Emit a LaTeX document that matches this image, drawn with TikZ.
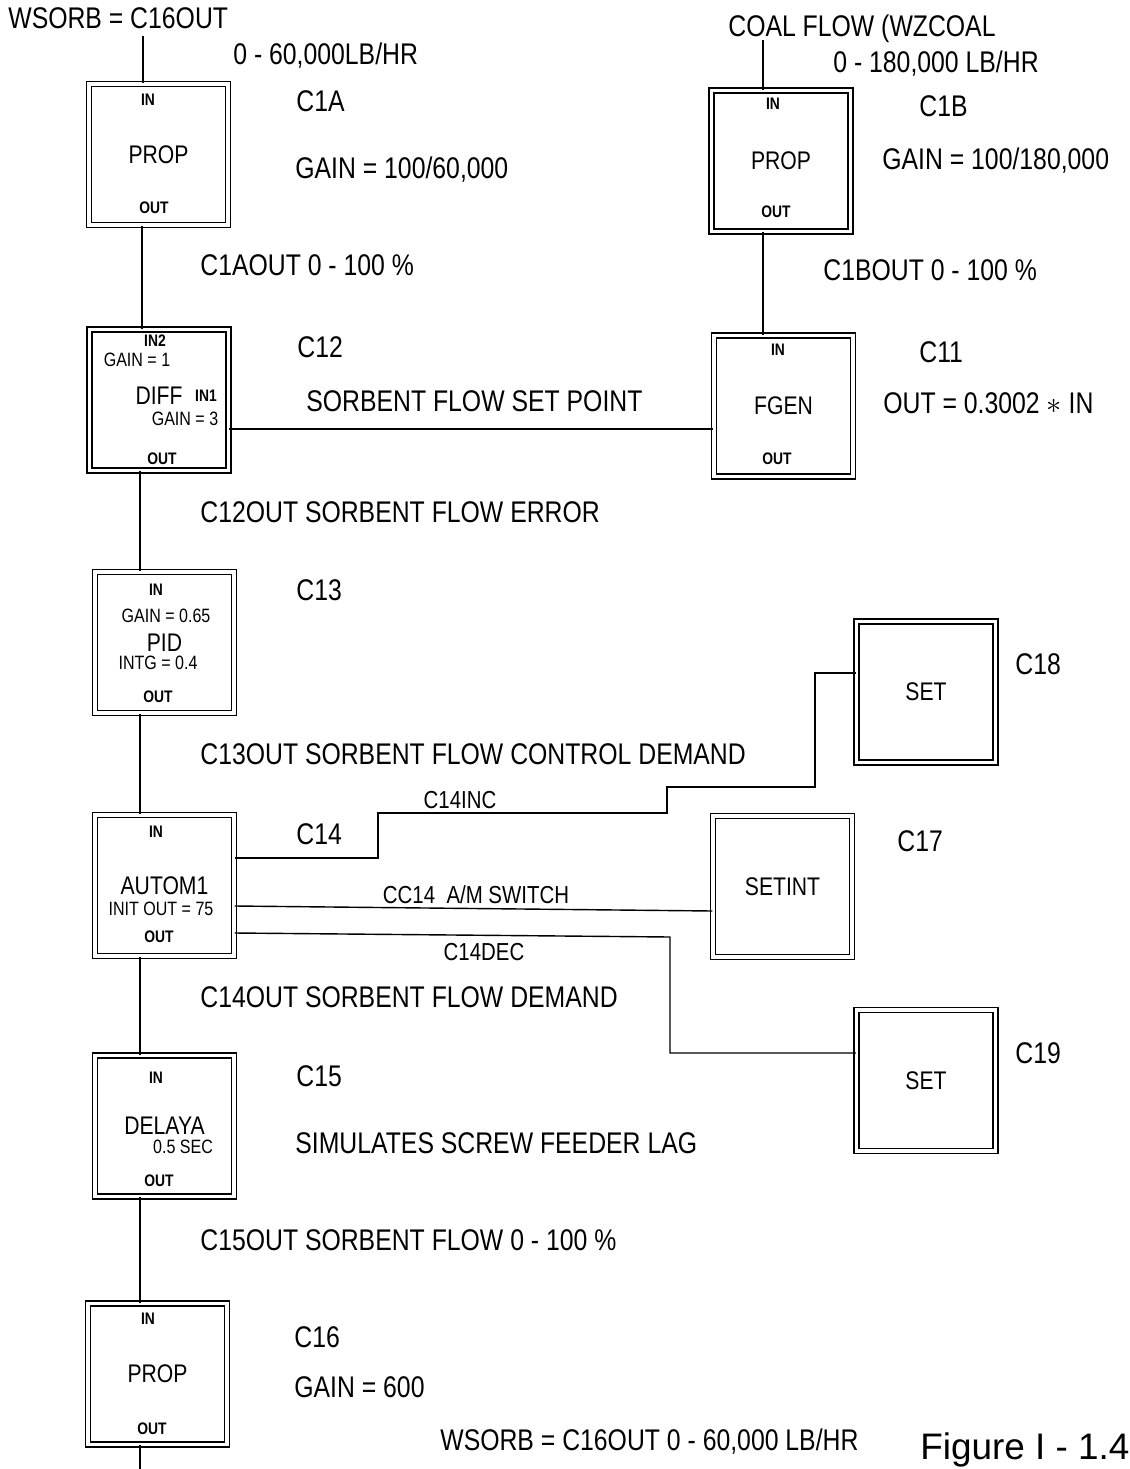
\documentclass[tikz,border=0pt]{standalone}
\usepackage{fontspec}
\setmainfont{Liberation Sans}[FakeStretch=0.83]
\newfontfamily\capfont{Liberation Sans}
\usepackage{tikz}

\begin{document}
\begin{tikzpicture}[
  x=0.02cm, y=-0.02cm,
  wire/.style={line width=0.8pt},
  block/.style={draw,line width=0.75pt,double,double distance=2.2pt,
    minimum width=2.78cm,minimum height=2.82cm,inner sep=0pt,
    font=\fontsize{14.5}{16}\selectfont},
  opname/.style={inner sep=0pt,text height=0.37cm,text depth=0pt,
    font=\fontsize{14.5}{16}\selectfont},
  lbl/.style={anchor=west,inner sep=0pt,text height=0.43cm,text depth=0pt,
    font=\fontsize{17}{20}\selectfont},
  wlbl/.style={inner sep=0pt,text height=0.35cm,text depth=0pt,
    font=\fontsize{14}{16}\selectfont},
  port/.style={inner sep=0pt,text height=0.24cm,text depth=0pt,
    font=\fontsize{9.5}{11}\selectfont\bfseries},
  param/.style={inner sep=0pt,text height=0.28cm,text depth=0pt,
    font=\fontsize{11}{13}\selectfont}
]
  \useasboundingbox (0,0) rectangle (1129,1469);

  \node[block] (c1a) at (158.5,154.5) {PROP};
  \node[block] (c1b) at (781,161) {PROP};
  \node[block] (c12) at (159,400) {};
  \node[block] (c11) at (783.5,406) {FGEN};
  \node[block] (c13) at (164.5,642.5) {PID};
  \node[block] (c14) at (164.5,885.5) {AUTOM1};
  \node[block] (c15) at (164.5,1126) {DELAYA};
  \node[block] (c16) at (157.5,1374) {PROP};
  \node[block] (c18) at (926,692) {SET};
  \node[block] (c17) at (782.5,886.5) {SETINT};
  \node[block] (c19) at (926,1080.5) {SET};

  \node[opname] (c12op) at (159,395) {DIFF};

  \foreach \b/\x/\y/\t in {c1a/148/100/IN,c1a/154/208/OUT,c1b/773/104/IN,c1b/776/212/OUT,
      c12/155/341/IN2,c12/206/396/IN1,c12/162/459/OUT,c11/778/350/IN,c11/777/459/OUT,
      c13/156/589/IN,c13/158/696/OUT,c14/156/831/IN,c14/159/936/OUT,
      c15/156/1077/IN,c15/159/1180/OUT,c16/148/1318/IN,c16/152/1428/OUT} {
    \node[port] (\b-\t) at (\x,\y) {\t};
  }

  \node[param] (c12gain2) at (137,360) {GAIN = 1};
  \node[param] (c12gain1) at (185,419) {GAIN = 3};
  \node[param] (c13gain) at (166,615) {GAIN = 0.65};
  \node[param] (c13intg) at (158,662) {INTG = 0.4};
  \node[param] (c14init) at (161,908) {INIT OUT = 75};
  \node[param] (c15lag) at (183,1146) {0.5 SEC};

  \node[lbl] (wsorbtop) at (8,18) {WSORB = C16OUT};
  \node[lbl] (c1arange) at (233,54) {0 - 60,000LB/HR};
  \node[lbl] (c1aname) at (296,101) {C1A};
  \node[lbl] (c1again) at (295,168) {GAIN = 100/60,000};
  \node[lbl] (c1aout) at (200,265) {C1AOUT 0 - 100 \%};
  \node[lbl] (c12name) at (297,347) {C12};
  \node[lbl] (setpoint) at (306,401) {SORBENT FLOW SET POINT};
  \node[lbl] (c12out) at (200,512) {C12OUT SORBENT FLOW ERROR};
  \node[lbl] (c13name) at (296,590) {C13};
  \node[lbl] (c13out) at (200,754) {C13OUT SORBENT FLOW CONTROL DEMAND};
  \node[lbl] (c14name) at (296,834) {C14};
  \node[lbl] (c14out) at (200,997) {C14OUT SORBENT FLOW DEMAND};
  \node[lbl] (c15name) at (296,1076) {C15};
  \node[lbl] (c15note) at (295,1143) {SIMULATES SCREW FEEDER LAG};
  \node[lbl] (c15out) at (200,1240) {C15OUT SORBENT FLOW 0 - 100 \%};
  \node[lbl] (c16name) at (294,1337) {C16};
  \node[lbl] (c16gain) at (294,1387) {GAIN = 600};
  \node[lbl] (wsorbbot) at (440,1440) {WSORB = C16OUT 0 - 60,000 LB/HR};
  \node[lbl] (coal) at (728,26) {COAL FLOW (WZCOAL};
  \node[lbl] (c1brange) at (833,62) {0 - 180,000 LB/HR};
  \node[lbl] (c1bname) at (919,106) {C1B};
  \node[lbl] (c1bgain) at (882,159) {GAIN = 100/180,000};
  \node[lbl] (c1bout) at (823,270) {C1BOUT 0 - 100 \%};
  \node[lbl] (c11name) at (919,352) {C11};
  \node[lbl] (c11eq) at (883,403) {OUT = 0.3002 $\ast$ IN};
  \node[lbl] (c17name) at (897,841) {C17};
  \node[lbl] (c18name) at (1015,664) {C18};
  \node[lbl] (c19name) at (1015,1053) {C19};
  \node[anchor=base west,inner sep=0pt,font=\capfont\fontsize{21}{24}\selectfont]
    (figcap) at (920,1459) {Figure I - 1.4};

  \node[wlbl] (incl) at (460,800) {C14INC};
  \node[wlbl] (ampl) at (476,895) {CC14~ A/M SWITCH};
  \node[wlbl] (decl) at (484,952) {C14DEC};

  \coordinate (lspine) at (142,0);
  \coordinate (spine) at (140,0);
  \coordinate (rspine) at (763,0);
  \coordinate (wsorbfoot) at (143,36);
  \coordinate (coalfoot) at (763,40);
  \coordinate (sink) at (140,1469);
  \coordinate (sp) at (0,429);
  \coordinate (inc) at (0,858);
  \coordinate (incend) at (0,673);
  \coordinate (am) at (0,906);
  \coordinate (amend) at (0,911);
  \coordinate (dec) at (0,933);
  \coordinate (decend) at (0,1053);

  \draw[wire] (wsorbfoot) -- (wsorbfoot |- c1a.north);
  \draw[wire] (c1a.south -| lspine) -- (c12.north -| lspine);
  \foreach \a/\b in {c12/c13,c13/c14,c14/c15,c15/c16} {
    \draw[wire] (\a.south -| spine) -- (\b.north -| spine);
  }
  \draw[wire] (c16.south -| spine) -- (sink);
  \draw[wire] (coalfoot) -- (coalfoot |- c1b.north);
  \draw[wire] (c1b.south -| rspine) -- (c11.north -| rspine);
  \draw[wire] (c12.east |- sp) -- (c11.west |- sp);
  \draw[wire] (c14.east |- inc) -- (378,858) -- (378,813) -- (667,813) -- (667,787)
    -- (815,787) -- (815,673) -- (c18.west |- incend);
  \draw[wire] (c14.east |- am) -- (c17.west |- amend);
  \draw[wire] (c14.east |- dec) -- (670,937) -- (670,1053) -- (c19.west |- decend);
\end{tikzpicture}
\end{document}
